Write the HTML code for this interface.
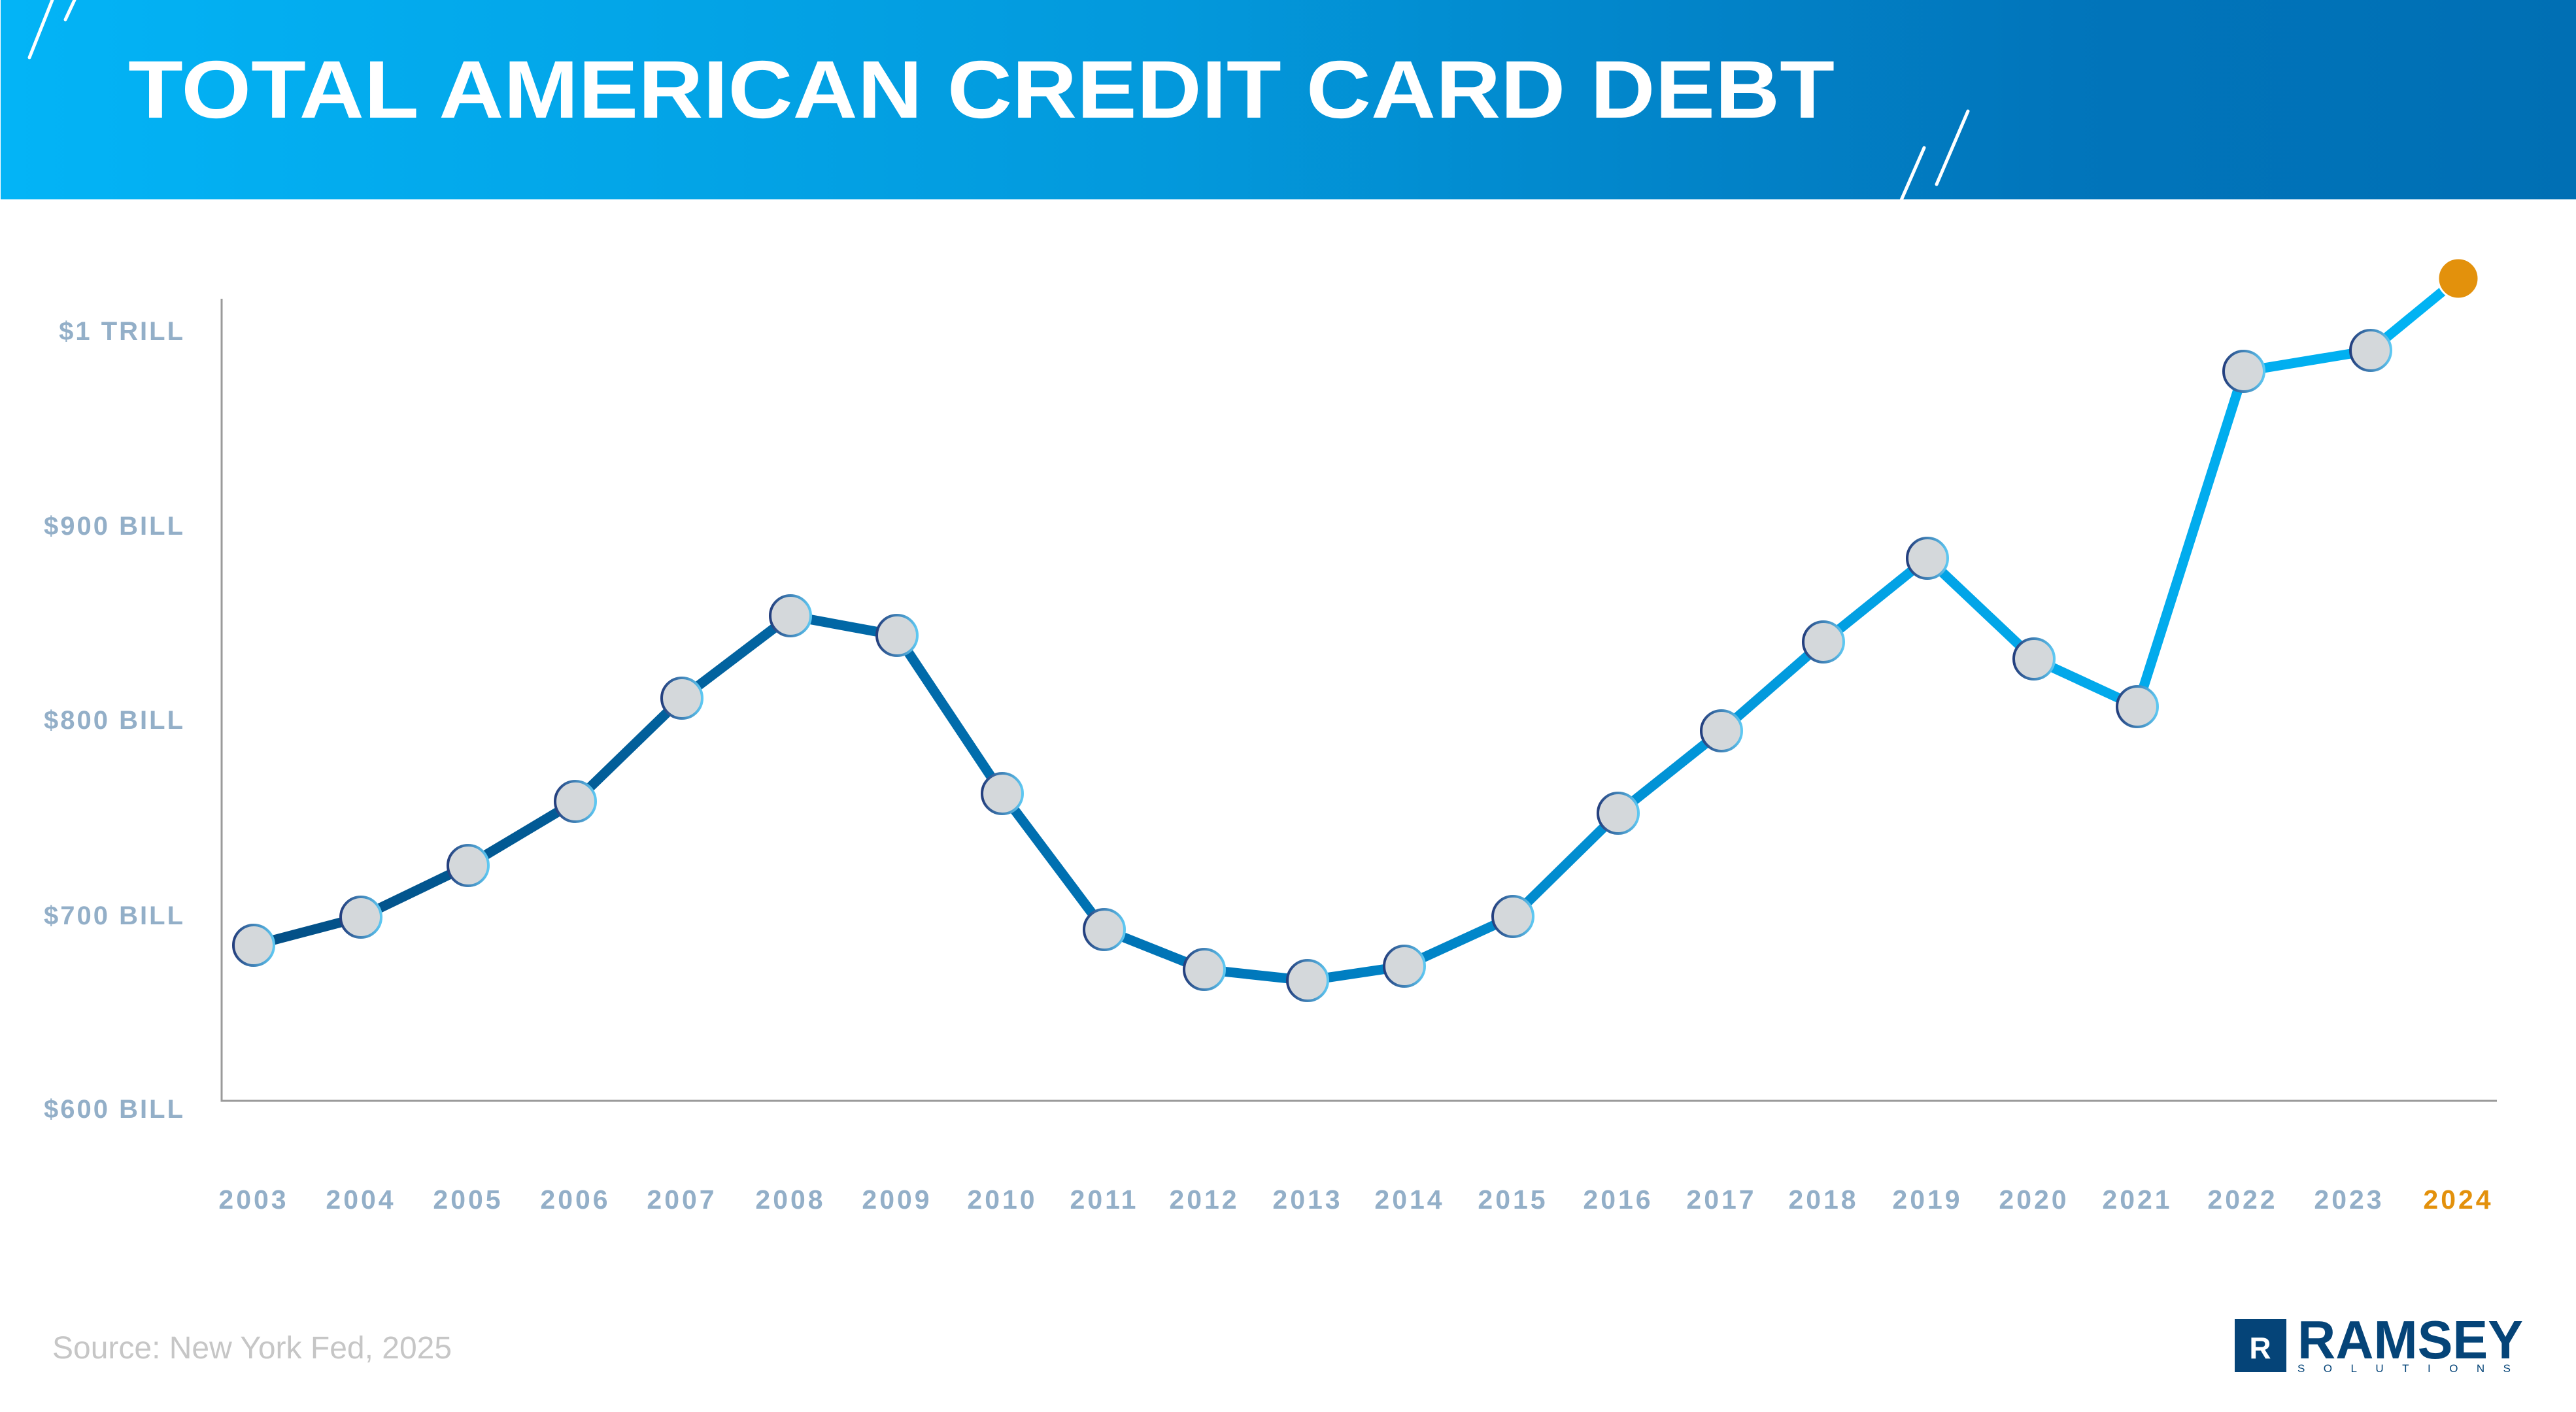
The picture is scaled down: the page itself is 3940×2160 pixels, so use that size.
<!DOCTYPE html>
<html><head><meta charset="utf-8"><style>
html,body{margin:0;padding:0;background:#fff}
svg{display:block}
</style></head><body>
<svg width="3940" height="2160" viewBox="0 0 3940 2160" xmlns="http://www.w3.org/2000/svg">
<defs>
<linearGradient id="hdr" x1="0" x2="1" y1="0" y2="0">
<stop offset="0" stop-color="#03b4f6"/><stop offset="0.45" stop-color="#0399dc"/><stop offset="0.8" stop-color="#0175bb"/><stop offset="1" stop-color="#006fb4"/>
</linearGradient>
<linearGradient id="ln" gradientUnits="userSpaceOnUse" x1="388" y1="0" x2="3760" y2="0">
<stop offset="0" stop-color="#034f86"/><stop offset="0.45" stop-color="#0078bb"/><stop offset="0.75" stop-color="#02a3e6"/><stop offset="1" stop-color="#01b4f4"/>
</linearGradient>
<linearGradient id="cs" x1="0" x2="1" y1="0" y2="0">
<stop offset="0" stop-color="#243f7e"/><stop offset="1" stop-color="#5ec8f2"/>
</linearGradient>
</defs>
<rect x="1" y="0" width="3939" height="305" fill="url(#hdr)"/>
<g stroke="#fff" stroke-width="5" stroke-linecap="round">
<line x1="45" y1="88" x2="80" y2="0"/><line x1="100" y1="30" x2="114" y2="0"/>
<line x1="2908" y1="306" x2="2943" y2="226"/><line x1="2962" y1="282" x2="3010" y2="170"/>
</g>
<text x="196" y="180" font-family="Liberation Sans, sans-serif" font-weight="bold" font-size="125" fill="#fff" textLength="2610" lengthAdjust="spacingAndGlyphs">TOTAL AMERICAN CREDIT CARD DEBT</text>
<polyline fill="none" stroke="#9a9a9a" stroke-width="3" points="339,457 339,1684 3819,1684"/>
<g font-family="Liberation Sans, sans-serif" font-weight="bold" font-size="40" fill="#93afc8" text-anchor="end" letter-spacing="3">
<text x="283" y="520">$1 TRILL</text>
<text x="283" y="818">$900 BILL</text>
<text x="283" y="1115">$800 BILL</text>
<text x="283" y="1414">$700 BILL</text>
<text x="283" y="1710">$600 BILL</text>
</g>
<polyline fill="none" stroke="url(#ln)" stroke-width="15" stroke-linejoin="round" points="388,1446 552,1403 716,1324 880,1226 1043,1068 1209,942 1372,972 1533,1214 1689,1422 1842,1483 2000,1500 2148,1478 2314,1402 2475,1244 2633,1118 2789,982 2948,854 3111,1008 3269,1081 3432,568 3626,536 3760,426"/>
<g fill="#d4d8db" stroke="url(#cs)" stroke-width="4">
<circle cx="388" cy="1446" r="31"/><circle cx="552" cy="1403" r="31"/><circle cx="716" cy="1324" r="31"/><circle cx="880" cy="1226" r="31"/><circle cx="1043" cy="1068" r="31"/><circle cx="1209" cy="942" r="31"/><circle cx="1372" cy="972" r="31"/><circle cx="1533" cy="1214" r="31"/><circle cx="1689" cy="1422" r="31"/><circle cx="1842" cy="1483" r="31"/><circle cx="2000" cy="1500" r="31"/><circle cx="2148" cy="1478" r="31"/><circle cx="2314" cy="1402" r="31"/><circle cx="2475" cy="1244" r="31"/><circle cx="2633" cy="1118" r="31"/><circle cx="2789" cy="982" r="31"/><circle cx="2948" cy="854" r="31"/><circle cx="3111" cy="1008" r="31"/><circle cx="3269" cy="1081" r="31"/><circle cx="3432" cy="568" r="31"/><circle cx="3626" cy="536" r="31"/>
</g>
<circle cx="3760" cy="426" r="31" fill="#e3910c" stroke="#fff" stroke-width="3"/>
<g font-family="Liberation Sans, sans-serif" font-weight="bold" font-size="41" fill="#93afc8" text-anchor="middle" letter-spacing="4">
<text x="388" y="1849">2003</text><text x="552" y="1849">2004</text><text x="716" y="1849">2005</text><text x="880" y="1849">2006</text><text x="1043" y="1849">2007</text><text x="1209" y="1849">2008</text><text x="1372" y="1849">2009</text><text x="1533" y="1849">2010</text><text x="1689" y="1849">2011</text><text x="1842" y="1849">2012</text><text x="2000" y="1849">2013</text><text x="2156" y="1849">2014</text><text x="2314" y="1849">2015</text><text x="2475" y="1849">2016</text><text x="2633" y="1849">2017</text><text x="2789" y="1849">2018</text><text x="2948" y="1849">2019</text><text x="3111" y="1849">2020</text><text x="3269" y="1849">2021</text><text x="3430" y="1849">2022</text><text x="3593" y="1849">2023</text><text x="3760" y="1849" fill="#e3910c">2024</text>
</g>
<text x="80" y="2078" font-family="Liberation Sans, sans-serif" font-size="48" fill="#c6c6c6">Source: New York Fed, 2025</text>
<rect x="3418" y="2018" width="79" height="81" fill="#054478"/>
<text x="3457" y="2078" font-family="Liberation Sans, sans-serif" font-weight="bold" font-size="46" fill="#fff" text-anchor="middle">R</text>
<text x="3514" y="2078" font-family="Liberation Sans, sans-serif" font-weight="bold" font-size="83" fill="#054478" textLength="345" lengthAdjust="spacingAndGlyphs">RAMSEY</text>
<text x="3514" y="2099" font-family="Liberation Sans, sans-serif" font-size="17" fill="#054478" textLength="326" lengthAdjust="spacing">SOLUTIONS</text>
</svg>
</body></html>
